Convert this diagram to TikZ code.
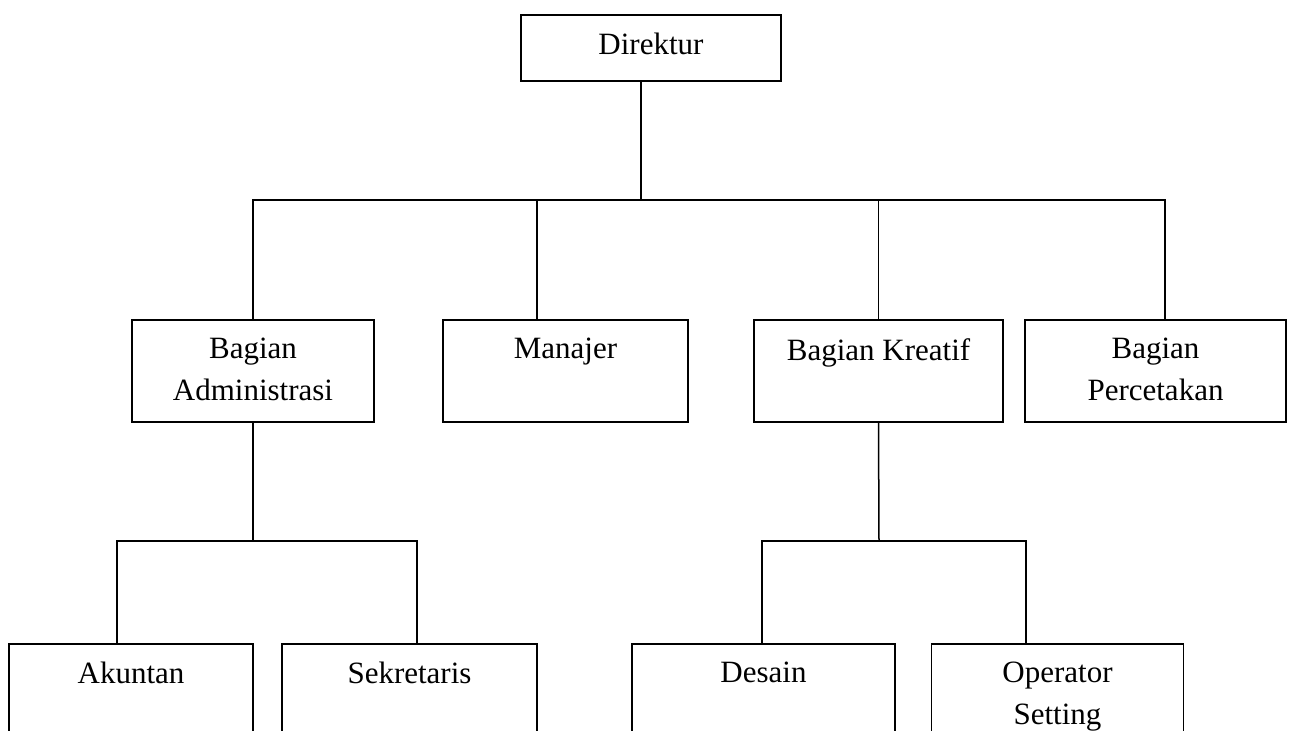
\documentclass[tikz,border=0pt]{standalone}
\usepackage{fontspec}
\setmainfont{Liberation Serif}
\usetikzlibrary{positioning}
\tikzset{
  unit/.style={draw, line width=1.5pt, inner sep=0pt},
  lbl/.style={font=\fontsize{31}{42}\selectfont, align=center, inner sep=0pt},
  link/.style={line width=1.5pt}
}
\begin{document}
\begin{tikzpicture}[x=1pt, y=-1pt]
\clip (0,0) rectangle (1296,731);
% boxes
\node[unit, minimum width=260, minimum height=66] (dir) at (651,48) {};
\node[unit, minimum width=242, minimum height=102] (adm) at (253,371) {};
\node[unit, minimum width=245, minimum height=102] (man) at (565.5,371) {};
\node[unit, minimum width=249, minimum height=102] (kre) at (878.5,371) {};
\node[unit, minimum width=261, minimum height=102] (per) at (1155.5,371) {};
\node[unit, minimum width=244, minimum height=150] (aku) at (131,719) {};
\node[unit, minimum width=255, minimum height=150] (sek) at (409.5,719) {};
\node[unit, minimum width=263, minimum height=150] (des) at (763.5,719) {};
\node[unit, minimum width=252, minimum height=150] (ope) at (1057.5,719) {};
% texts
\node[lbl, below=19pt of dir.north] (dirT) {Direktur};
\node[lbl, below=19pt of adm.north] (admT) {Bagian\\Administrasi};
\node[lbl, below=19pt of man.north] (manT) {Manajer};
\node[lbl, below=19pt of kre.north] (kreT) {Bagian Kreatif};
\node[lbl, below=19pt of per.north] (perT) {Bagian\\Percetakan};
\node[lbl, below=19pt of aku.north] (akuT) {Akuntan};
\node[lbl, below=19pt of sek.north] (sekT) {Sekretaris};
\node[lbl, below=19pt of des.north] (desT) {Desain};
\node[lbl, below=19pt of ope.north] (opeT) {Operator\\Setting};
% lines
\coordinate (hub) at (641,200);
\coordinate (admhub) at (253,541);
\coordinate (krehub) at (879,541);
\draw[link] (dir.south -| hub) -- (hub);
\draw[link] (adm.north) |- (hub) -| ([xshift=9.5]per.north);
\draw[link] ([xshift=-28.5]man.north) -- ([xshift=-28.5]man.north |- hub);
\draw[link] (kre.north) -- (kre.north |- hub);
\draw[link] (adm.south) -- (admhub);
\draw[link] ([xshift=-14]aku.north) |- (admhub) -| ([xshift=7.5]sek.north);
\draw[link] (kre.south) -- (krehub);
\draw[link] ([xshift=-1.5]des.north) |- (krehub) -| ([xshift=-31.5]ope.north);
\end{tikzpicture}
\end{document}
